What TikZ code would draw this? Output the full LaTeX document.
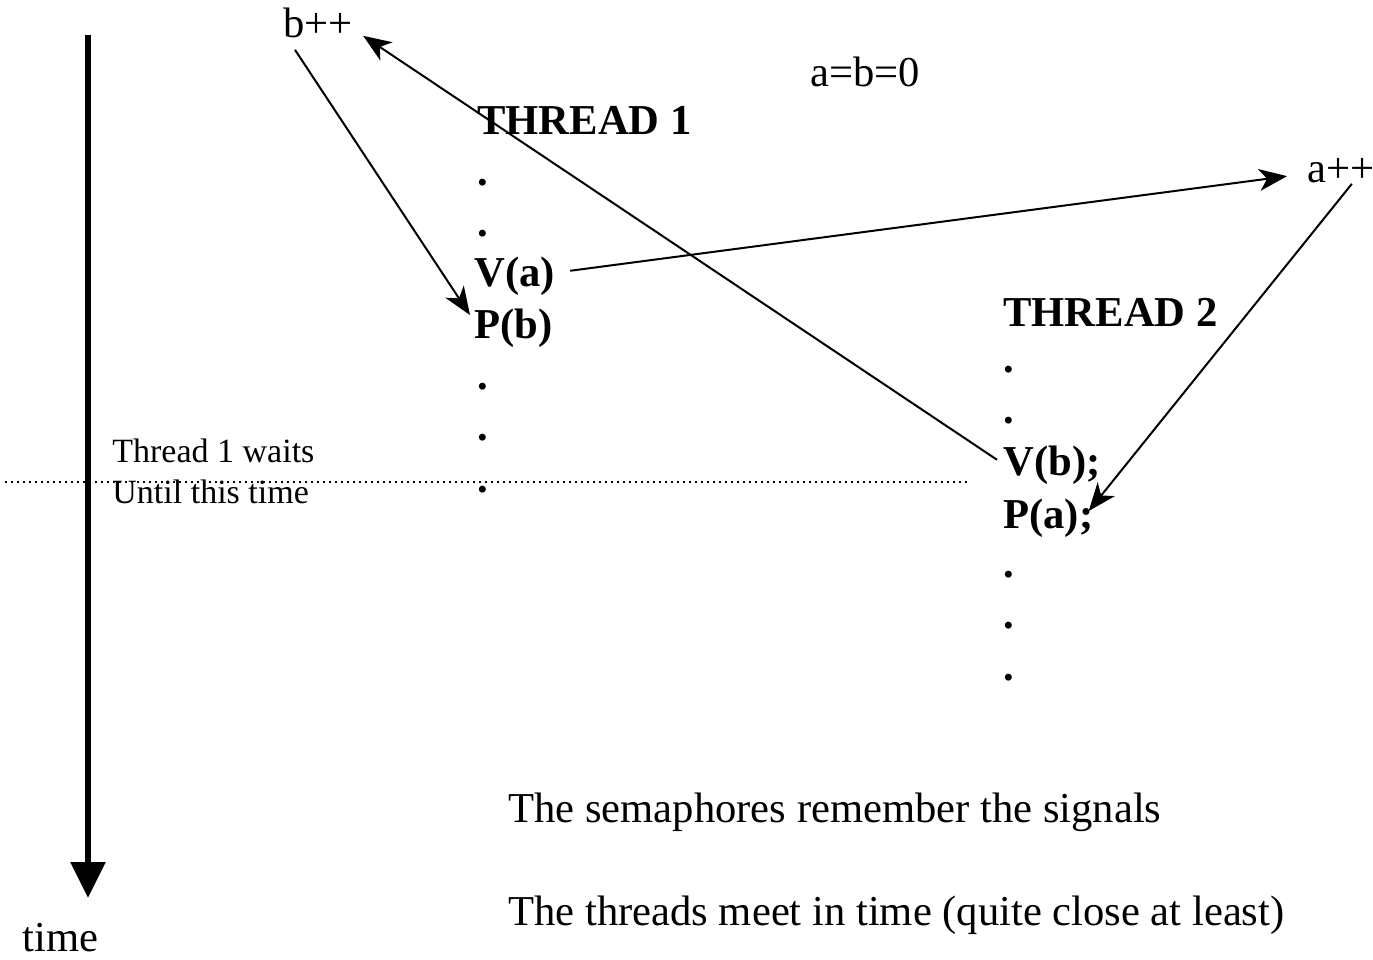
\documentclass[tikz,border=0pt]{standalone}
\usepackage{fontspec}
\setmainfont{Liberation Serif}
\usetikzlibrary{arrows.meta}

\begin{document}
\begin{tikzpicture}[x=0.5pt,y=-0.5pt,
  t/.style={anchor=base west,inner sep=0pt,font=\fontsize{21.3}{25}\selectfont},
  tb/.style={t,font=\fontsize{21.3}{25}\selectfont\bfseries},
  ts/.style={anchor=base west,inner sep=0pt,font=\fontsize{17}{20}\selectfont},
  sig/.style={-{Stealth[length=14pt,width=11pt,inset=4pt]},line width=1pt}]
  \useasboundingbox (0,0) rectangle (1373,960);
  % time axis
  \node[t] (time) at (22,951) {time};
  \draw[line width=3pt,-{Triangle[length=18pt,width=17pt]}] (88,35) -- (88,898);
  % counters
  \node[t] (bpp) at (283,37) {b++};
  \node[t] (app) at (1307,182) {a++};
  \node[t] (init) at (810,86) {a=b=0};
  % thread 1
  \node[tb] (th1) at (477,134) {THREAD 1};
  \node[tb] (d11) at (477,185) {.};
  \node[tb] (d12) at (477,236) {.};
  \node[tb] (va) at (474,286) {V(a)};
  \node[tb] (pb) at (474,338) {P(b)};
  \node[tb] (d13) at (477,389) {.};
  \node[tb] (d14) at (477,440) {.};
  \node[tb] (d15) at (477,492) {.};
  % thread 2
  \node[tb] (th2) at (1003,326) {THREAD 2};
  \node[tb] (d21) at (1003,372) {.};
  \node[tb] (d22) at (1003,423) {.};
  \node[tb] (vb) at (1003,475) {V(b);};
  \node[tb] (pa) at (1003,528) {P(a);};
  \node[tb] (d23) at (1003,577) {.};
  \node[tb] (d24) at (1003,628) {.};
  \node[tb] (d25) at (1003,680) {.};
  % waiting point
  \draw[dotted,line width=1pt] (5,482) -- (968,482);
  \node[ts] (w1) at (112,462) {Thread 1 waits};
  \node[ts] (w2) at (112,503) {Until this time};
  % signals
  \draw[sig] ([shift={(12,12)}]bpp.south west) -- ([shift={(-4,7)}]pb.north west);
  \draw[sig] ([shift={(-6,-5)}]vb.west) -- ([shift={(10,-2)}]bpp.south east);
  \draw[sig] ([shift={(15,-5)}]va.east) -- ([shift={(-20,6)}]app.west);
  \draw[sig] ([shift={(11,1)}]app.south) -- ([shift={(-5,13)}]pa.north east);
  % notes
  \node[t] (n1) at (508,822) {The semaphores remember the signals};
  \node[t] (n2) at (508,925) {The threads meet in time (quite close at least)};
\end{tikzpicture}
\end{document}
